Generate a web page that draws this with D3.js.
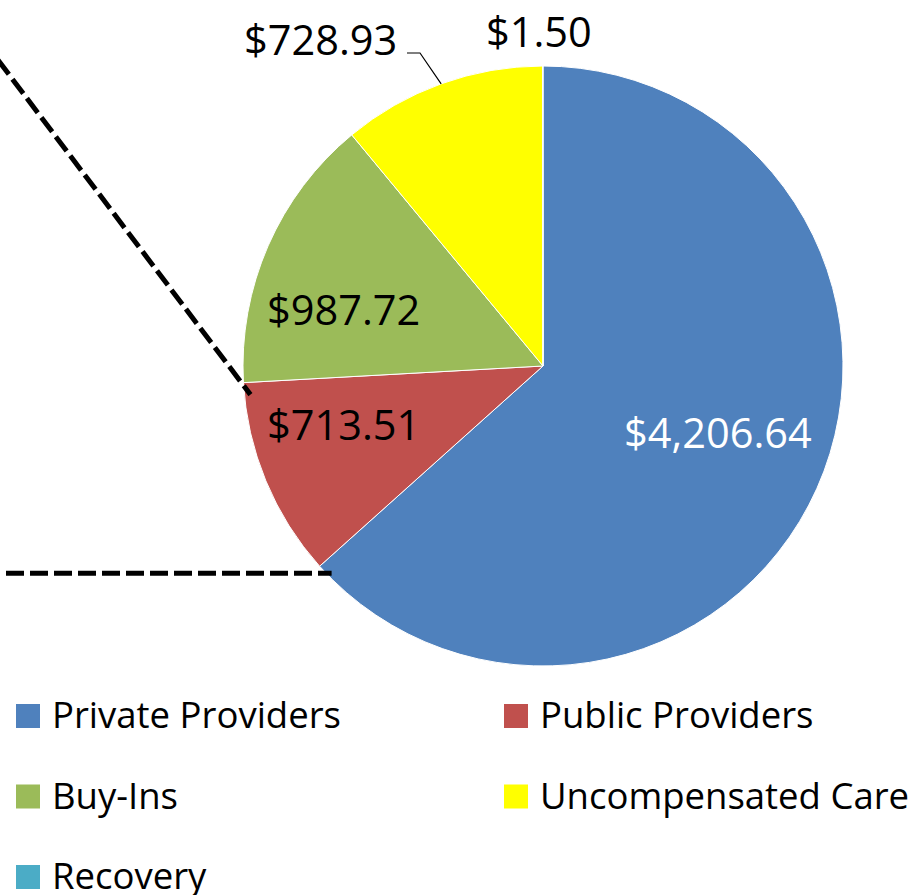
<!DOCTYPE html>
<html>
<head>
<meta charset="utf-8">
<script src="https://cdn.jsdelivr.net/npm/d3@7"></script>
<style>
  body { margin: 0; background: #fff; }
  text { font-family: "Open Sans", sans-serif; }
</style>
</head>
<body>
<div class="canvas"></div>
<script>
// data
const categories = ["Private Providers", "Public Providers", "Buy-Ins", "Uncompensated Care", "Recovery"];
const values = [4206.64, 713.51, 987.72, 728.93, 1.50];
const colors = ["#4F81BD", "#C0504D", "#9BBB59", "#FFFF00", "#4BACC6"];

// dimensions
const w = 916;
const h = 895;
const cx = 543;
const cy = 366;
const radius = 300;

// label placement (baseline start points), layout only
const labelPos = [
  { x: 624, y: 448, fill: "#fff" },
  { x: 267, y: 440, fill: "#000" },
  { x: 267, y: 325, fill: "#000" },
  { x: 244, y: 55, fill: "#000", leader: true },
  { x: 486, y: 47, fill: "#000" }
];

const fmt = d3.format("$,.2f");

const svg = d3.select(".canvas").append("svg").attr("width", w).attr("height", h);

const rows = categories.map((c, i) => ({ name: c, value: values[i], color: colors[i] }));

const pie = d3.pie().sort(null).value(d => d.value);
const arc = d3.arc().innerRadius(0).outerRadius(radius);
const edgeArc = d3.arc().innerRadius(radius).outerRadius(radius);

const g = svg.append("g").attr("transform", `translate(${cx}, ${cy})`);

const arcs = pie(rows);

g.selectAll("path.slice")
  .data(arcs)
  .enter()
  .append("path")
  .attr("class", "slice")
  .attr("d", arc)
  .attr("fill", d => d.data.color)
  .attr("stroke", "#fff")
  .attr("stroke-width", 1);

// connector lines to the (cropped) secondary chart
const blueEnd = arcs[0].endAngle;
const pEnd = [cx + radius * Math.sin(blueEnd), cy - radius * Math.cos(blueEnd)];
const redEnd = arcs[1].endAngle;
const pRed = [cx + radius * Math.sin(redEnd), cy - radius * Math.cos(redEnd)];

svg.append("line")
  .attr("x1", 6).attr("y1", pEnd[1] + 7)
  .attr("x2", pEnd[0] + 12).attr("y2", pEnd[1] + 7)
  .attr("stroke", "#000").attr("stroke-width", 5)
  .attr("stroke-dasharray", "18,6");

svg.append("line")
  .attr("x1", -2).attr("y1", 60)
  .attr("x2", pRed[0] + 7).attr("y2", pRed[1] + 12)
  .attr("stroke", "#000").attr("stroke-width", 5)
  .attr("stroke-dasharray", "18,6");

// value labels
arcs.forEach((d, i) => {
  const p = labelPos[i];
  svg.append("text")
    .attr("x", p.x)
    .attr("y", p.y)
    .attr("fill", p.fill)
    .attr("font-size", 41.5)
    .text(fmt(d.data.value));
  if (p.leader) {
    const c = edgeArc.centroid(d);
    svg.append("polyline")
      .attr("points", `${p.x + 163},${p.y - 2} ${p.x + 176},${p.y - 2} ${cx + c[0]},${cy + c[1]}`)
      .attr("fill", "none")
      .attr("stroke", "#000")
      .attr("stroke-width", 1.2);
  }
});

// legend
const legend = svg.append("g").attr("transform", "translate(16, 704)");
const item = legend.selectAll("g")
  .data(rows)
  .enter()
  .append("g")
  .attr("transform", (d, i) => `translate(${(i % 2) * 488}, ${Math.floor(i / 2) * 80.5})`);

item.append("rect")
  .attr("width", 24)
  .attr("height", 24)
  .attr("fill", d => d.color);

item.append("text")
  .attr("x", 36)
  .attr("y", 24)
  .attr("font-size", 36.5)
  .attr("fill", "#000")
  .text(d => d.name);
</script>
</body>
</html>
